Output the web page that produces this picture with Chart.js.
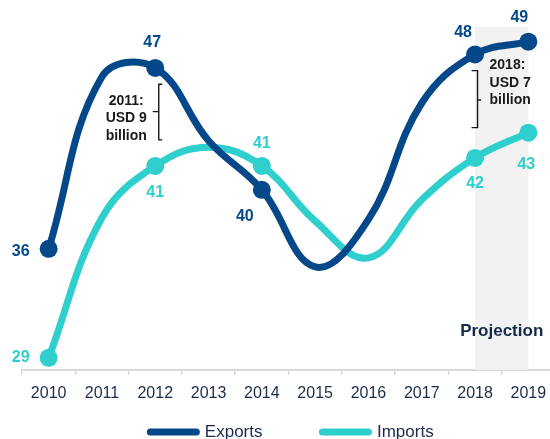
<!DOCTYPE html>
<html>
<head>
<meta charset="utf-8">
<script src="https://cdn.jsdelivr.net/npm/chart.js@4.4.1/dist/chart.umd.min.js"></script>
<style>
html,body{margin:0;padding:0;overflow:hidden;background:#fff;width:550px;height:439px}
#clip{position:absolute;left:0;top:0;width:550px;height:439px;overflow:hidden}
#wrap{position:absolute;left:0;top:0;width:564px;height:499px}
</style>
</head>
<body>
<div id="clip"><div id="wrap"><canvas id="c" width="564" height="499"></canvas></div></div>
<script>
// ---- data ----
const years = ['2010','2011','2012','2013','2014','2015','2016','2017','2018','2019'];
const exportsValues = [36.0, 46.5, 47.04, 42.6, 39.6, 34.9, 37.8, 44.9, 47.86, 48.64];
const importsValues = [29.35, 37.9, 41.06, 42.2, 41.06, 37.7, 35.45, 39.0, 41.55, 43.09];
const labelledYears = ['2010','2012','2014','2018','2019'];
const projectionYears = ['2018','2019'];
const projectionLabel = 'Projection';
const gapNotes = [
  {lines: ['2011:', 'USD 9', 'billion'], year: '2012'},
  {lines: ['2018:', 'USD 7', 'billion'], year: '2018'}
];

// ---- styles ----
const FONT = "'Liberation Sans', Arial, Helvetica, sans-serif";
const EXPORT_COLOR = '#05488a';
const IMPORT_COLOR = '#2ecfcd';
const TEXT_COLOR = '#1b2b4d';
const labelOffsets = [
  {0:[-28,3], 2:[-3,-25], 4:[-17,27], 8:[-12,-22], 9:[-9,-24]},
  {0:[-28,0], 2:[0,27], 4:[0,-22], 8:[0,26], 9:[-2,32]}
];
const noteStyles = [
  {textAlign:'center', textDx:-29, textDy:[33.7,50,68], brX:3.5, brEnd:7, nubEnd:-2.5, brTop:16.3, brBottom:72, nubY:43.7},
  {textAlign:'left', textDx:14.5, textDy:[10.5,28.2,45.5], brX:2.5, brEnd:-3.5, nubEnd:6, brTop:16.2, brBottom:73.2, nubY:45.5}
];

const radii = years.map(y => labelledYears.includes(y) ? 9 : 0);

const shadePlugin = {
  id: 'shade',
  beforeDatasetsDraw(chart) {
    const {ctx, scales: {x, y}, chartArea} = chart;
    const x0 = x.getPixelForValue(years.indexOf(projectionYears[0]));
    const x1 = x.getPixelForValue(years.indexOf(projectionYears[1]));
    const top = y.getPixelForValue(49.55);
    ctx.save();
    ctx.fillStyle = '#f2f2f2';
    ctx.fillRect(x0, top, x1 - x0, chartArea.bottom - top);
    ctx.fillStyle = '#14284b';
    ctx.font = 'bold 17px ' + FONT;
    ctx.textAlign = 'center';
    ctx.textBaseline = 'middle';
    ctx.fillText(projectionLabel, (x0 + x1) / 2, chartArea.bottom - 38);
    ctx.restore();
  }
};

const labelPlugin = {
  id: 'labels',
  afterDatasetsDraw(chart) {
    const {ctx} = chart;
    ctx.save();
    ctx.font = 'bold 16px ' + FONT;
    ctx.textAlign = 'center';
    ctx.textBaseline = 'middle';
    chart.data.datasets.forEach((ds, di) => {
      const meta = chart.getDatasetMeta(di);
      ctx.fillStyle = ds.borderColor;
      years.forEach((yr, i) => {
        if (!labelledYears.includes(yr)) return;
        const off = labelOffsets[di][i] || [0, -20];
        const el = meta.data[i];
        ctx.fillText(String(Math.round(ds.data[i])), el.x + off[0], el.y + off[1]);
      });
    });
    const meta0 = chart.getDatasetMeta(0);
    gapNotes.forEach((note, ni) => {
      const st = noteStyles[ni];
      const idx = years.indexOf(note.year);
      const px = meta0.data[idx].x, py = meta0.data[idx].y;
      ctx.fillStyle = '#1a1a1a';
      ctx.font = 'bold 14px ' + FONT;
      ctx.textAlign = st.textAlign;
      note.lines.forEach((t, li) => ctx.fillText(t, px + st.textDx, py + st.textDy[li]));
      ctx.strokeStyle = '#1a1a1a';
      ctx.lineWidth = 1.4;
      const bx = px + st.brX;
      ctx.beginPath();
      ctx.moveTo(px + st.brEnd, py + st.brTop);
      ctx.lineTo(bx, py + st.brTop);
      ctx.lineTo(bx, py + st.brBottom);
      ctx.lineTo(px + st.brEnd, py + st.brBottom);
      ctx.moveTo(bx, py + st.nubY);
      ctx.lineTo(px + st.nubEnd, py + st.nubY);
      ctx.stroke();
    });
    ctx.restore();
  }
};

const legendShift = {
  id: 'legendShift',
  afterLayout(chart) {
    const lg = chart.legend;
    if (!lg) return;
    const d = 363.5 - lg.top;
    lg.top += d; lg.bottom += d;
  }
};

new Chart(document.getElementById('c'), {
  type: 'line',
  data: {
    labels: years,
    datasets: [
      {label: 'Exports', data: exportsValues, borderColor: EXPORT_COLOR, backgroundColor: EXPORT_COLOR,
       borderWidth: 7, tension: 0.4, pointRadius: radii, pointBackgroundColor: EXPORT_COLOR, pointBorderWidth: 0, fill: false, clip: false},
      {label: 'Imports', data: importsValues, borderColor: IMPORT_COLOR, backgroundColor: IMPORT_COLOR,
       borderWidth: 7, tension: 0.4, pointRadius: radii, pointBackgroundColor: IMPORT_COLOR, pointBorderWidth: 0, fill: false, clip: false}
    ]
  },
  options: {
    responsive: false,
    animation: false,
    layout: {padding: {left: 22, right: 2, top: 10, bottom: 0}},
    scales: {
      x: {
        offset: true,
        grid: {offset: true, drawOnChartArea: false, drawTicks: true, tickLength: 5, color: '#d9d9d9', lineWidth: 1.5},
        border: {display: true, color: '#d9d9d9', width: 2},
        ticks: {color: TEXT_COLOR, font: {family: FONT, size: 16}, padding: 9, maxRotation: 0, autoSkip: false}
      },
      y: {display: false, min: 28.622, max: 50.573}
    },
    plugins: {
      tooltip: {enabled: false},
      legend: {
        position: 'bottom',
        labels: {
          usePointStyle: true,
          pointStyleWidth: 46,
          padding: 60,
          color: TEXT_COLOR,
          font: {family: FONT, size: 17},
          generateLabels(chart) {
            return chart.data.datasets.map((ds, i) => ({
              text: ds.label, fillStyle: ds.borderColor, strokeStyle: ds.borderColor,
              lineWidth: 7, lineCap: 'round', pointStyle: 'line', hidden: false,
              datasetIndex: i, fontColor: TEXT_COLOR
            }));
          }
        }
      }
    }
  },
  plugins: [shadePlugin, labelPlugin, legendShift]
});
</script>
</body>
</html>
